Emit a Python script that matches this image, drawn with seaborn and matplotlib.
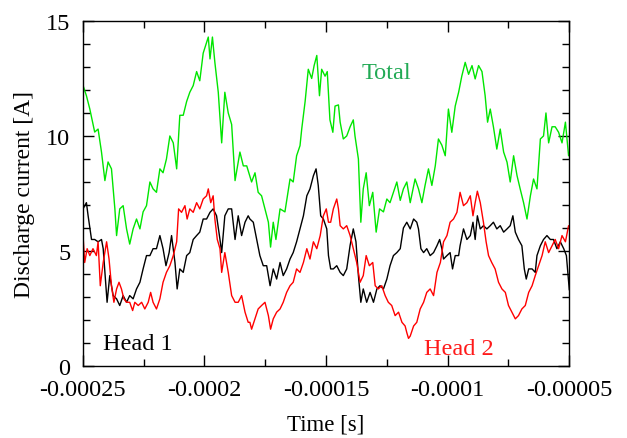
import numpy as np
import matplotlib
matplotlib.use("Agg")
import matplotlib.pyplot as plt
from matplotlib.ticker import MultipleLocator
import seaborn as sns

sns.set_style("ticks")
plt.rcParams["font.family"] = ["Liberation Serif", "DejaVu Serif"]
plt.rcParams["text.color"] = "black"
plt.rcParams["axes.labelcolor"] = "black"

# ---- data (time in microseconds, current in A) ----
t_total = [-249.9, -248.5, -247.1, -245.1, -243.7, -242.3, -240.9, -239.6, -238.2, -236.8,
           -236.1, -234.8, -233.4, -232.0, -230.7, -229.3, -227.9, -226.5, -225.2, -223.8,
           -222.4, -221.1, -219.7, -218.3, -217.0, -215.6, -214.2, -212.8, -211.4, -210.1,
           -208.7, -207.3, -206.0, -204.6, -203.2, -201.9, -200.5, -199.1, -198.4, -197.7,
           -196.7, -195.7, -194.3, -192.9, -191.6, -190.2, -188.8, -187.4, -185.4, -184.0,
           -182.6, -180.6, -179.2, -177.9, -176.5, -175.1, -173.7, -172.8, -171.7, -170.6,
           -168.9, -166.9, -164.8, -163.5, -162.1, -160.7, -160.0, -158.6, -157.3, -155.9,
           -154.9, -153.8, -152.7, -151.8, -150.4, -149.5, -148.4, -147.2, -146.3, -144.9,
           -144.2, -142.9, -141.5, -140.1, -138.8, -138.1, -136.7, -135.7, -134.7, -133.5,
           -132.2, -130.8, -129.4, -128.0, -126.4, -125.0, -123.7, -122.3, -120.9, -119.5,
           -118.2, -116.8, -115.4, -113.4, -112.0, -110.6, -109.3, -107.9, -106.5, -105.1,
           -103.8, -102.4, -101.0, -99.7, -98.3, -96.9, -95.5, -94.2, -92.8, -91.4,
           -90.0, -88.7, -87.3, -85.9, -84.6, -83.6, -82.5, -81.2, -79.8, -78.4,
           -77.0, -75.6, -74.3, -72.9, -71.5, -70.2, -68.8, -67.4, -66.0, -64.7,
           -63.3, -61.9, -60.6, -59.6, -58.5, -57.1, -55.8, -54.4, -53.0, -51.6, -50.3]
i_total = [12.2, 11.75, 11.17, 10.17, 10.3, 9.3, 8.06, 8.87, 8.57, 6.83,
           5.67, 6.83, 6.97, 5.96, 5.3, 5.96, 6.39, 5.96, 6.7, 6.97,
           8.0, 7.7, 7.55, 8.57, 8.4, 9.0, 10.0, 9.7, 8.57, 10.9,
           10.9, 11.5, 11.9, 12.19, 12.8, 12.4, 13.6, 14.07, 14.3, 13.35,
           14.3, 13.2, 11.9, 9.7, 11.9, 11.0, 10.5, 8.06, 9.3, 8.7,
           8.7, 8.0, 8.4, 7.55, 7.4, 6.83, 6.25, 5.17, 6.25, 5.5,
           6.83, 6.7, 8.13, 8.0, 9.14, 9.58, 10.3, 11.5, 12.9, 12.5,
           13.06, 13.5, 11.75, 12.9, 12.6, 12.8, 10.7, 10.16, 11.3, 11.35,
           10.6, 9.87, 10.0, 10.4, 10.7, 10.0, 9.0, 6.25, 7.7, 8.4,
           6.97, 7.55, 5.82, 6.83, 6.7, 7.26, 7.1, 7.55, 8.0, 7.2,
           7.7, 8.0, 7.1, 8.13, 7.7, 7.1, 7.85, 8.57, 7.85, 8.7,
           9.87, 9.6, 9.14, 11.17, 10.16, 11.3, 11.9, 12.6, 13.2, 12.68,
           13.06, 12.48, 13.06, 12.8, 11.75, 10.6, 11.17, 10.4, 9.43, 10.3,
           9.3, 8.86, 8.0, 9.14, 8.28, 7.7, 7.1, 6.39, 7.4, 8.13,
           7.7, 9.87, 10.0, 11.0, 9.7, 10.4, 10.4, 10.16, 9.7, 10.6, 9.14]

t_head1 = [-249.9, -248.5, -247.8, -246.4, -245.1, -243.7, -242.3, -241.6, -240.5, -240.0,
           -238.9, -237.5, -236.1, -234.8, -233.4, -232.0, -230.7, -229.3, -227.9, -226.5,
           -225.2, -223.8, -222.4, -221.1, -219.7, -218.3, -217.0, -215.8, -214.5, -213.5,
           -212.1, -211.2, -210.1, -208.7, -207.3, -206.0, -204.6, -203.2, -201.9, -200.5,
           -199.1, -197.7, -196.4, -195.0, -193.6, -192.9, -191.6, -190.2, -188.8, -187.4,
           -186.1, -184.7, -183.3, -182.0, -181.3, -179.9, -178.5, -177.2, -175.8, -174.4,
           -173.0, -171.7, -170.3, -168.9, -167.6, -166.2, -164.8, -163.5, -162.1, -160.7,
           -159.3, -157.9, -156.6, -155.2, -154.1, -153.2, -152.2, -151.1, -149.7, -149.0,
           -148.1, -147.0, -145.6, -144.2, -142.9, -141.5, -140.1, -138.8, -137.7, -136.7,
           -135.7, -134.7, -133.3, -131.9, -130.5, -129.1, -127.8, -126.4, -125.0, -123.7,
           -122.3, -120.9, -119.5, -118.2, -116.8, -115.4, -114.0, -112.7, -112.0, -111.0,
           -109.9, -108.6, -107.2, -105.8, -104.4, -103.3, -102.4, -101.7, -100.3, -99.0,
           -98.0, -96.9, -95.5, -94.9, -93.5, -92.1, -90.7, -89.6, -88.7, -87.8,
           -86.6, -85.3, -83.9, -82.5, -81.2, -79.8, -78.4, -77.0, -75.6, -74.3,
           -73.2, -72.2, -70.9, -69.5, -68.5, -67.7, -66.7, -65.3, -64.0, -63.3,
           -61.9, -60.6, -59.2, -57.8, -56.5, -55.1, -53.7, -52.3, -51.2, -50.5, -50.0]
i_head1 = [6.83, 7.1, 6.53, 5.5, 5.5, 5.4, 5.5, 5.1, 3.49, 2.77,
           3.93, 3.06, 2.92, 2.63, 3.06, 2.77, 3.06, 2.92, 3.35, 3.64,
           4.22, 4.8, 4.8, 5.1, 5.1, 5.67, 5.1, 4.36, 4.93, 5.67,
           4.5, 3.35, 4.22, 4.07, 4.8, 4.93, 5.5, 5.67, 5.82, 6.39,
           6.39, 6.68, 6.83, 6.53, 5.5, 4.93, 6.53, 6.83, 6.83, 5.5,
           6.53, 5.67, 6.25, 6.53, 6.39, 6.25, 5.5, 4.8, 4.36, 4.36,
           3.49, 4.22, 3.78, 4.5, 3.93, 4.22, 4.65, 4.93, 5.4, 5.96,
           6.53, 7.4, 7.7, 8.27, 8.57, 7.85, 6.53, 6.39, 5.96, 4.8,
           4.22, 4.22, 4.36, 4.07, 3.93, 4.22, 5.25, 5.96, 5.4, 3.93,
           2.77, 3.35, 2.77, 3.2, 2.77, 3.35, 3.49, 3.35, 3.78, 4.36,
           4.8, 4.93, 5.1, 6.0, 6.25, 5.96, 6.39, 6.25, 5.96, 5.1,
           4.93, 5.1, 4.8, 4.93, 5.23, 5.5, 5.1, 4.65, 4.8, 4.93,
           4.22, 4.8, 4.8, 5.23, 5.96, 5.5, 5.67, 6.25, 5.5, 6.53,
           5.96, 6.1, 5.96, 6.1, 6.25, 5.96, 6.1, 5.82, 5.96, 6.1,
           6.53, 5.82, 5.5, 5.23, 4.22, 3.78, 4.22, 4.22, 4.07, 4.8,
           5.23, 5.5, 5.67, 5.5, 5.5, 5.1, 5.4, 5.1, 4.8, 3.93, 3.3]

t_head2 = [-249.9, -249.2, -248.2, -247.1, -245.8, -244.4, -243.7, -242.8, -241.6, -240.2,
           -239.2, -238.2, -237.2, -236.1, -235.1, -234.1, -233.1, -232.0, -230.7, -229.5,
           -228.6, -227.2, -225.8, -224.5, -223.1, -222.1, -221.1, -219.7, -218.3, -217.0,
           -215.6, -214.2, -212.8, -211.4, -210.6, -209.4, -208.0, -207.1, -206.0, -204.6,
           -203.2, -201.9, -200.5, -199.1, -198.4, -197.4, -196.4, -195.7, -194.7, -193.6,
           -192.9, -191.6, -190.2, -188.8, -187.4, -186.1, -184.7, -183.3, -182.0, -181.3,
           -180.6, -179.2, -177.9, -176.5, -175.1, -173.7, -172.8, -171.7, -170.3, -168.9,
           -167.6, -166.2, -164.8, -163.5, -162.1, -160.7, -159.3, -157.9, -156.6, -155.2,
           -153.8, -152.4, -151.1, -149.9, -149.0, -148.1, -147.0, -145.6, -144.9, -144.2,
           -142.9, -141.5, -140.1, -138.8, -137.4, -136.0, -134.7, -133.5, -132.2, -130.8,
           -129.8, -128.5, -127.1, -125.7, -124.4, -123.0, -121.6, -120.2, -118.8, -117.5,
           -116.8, -116.1, -115.4, -114.0, -112.7, -111.3, -109.9, -108.6, -107.2, -105.8,
           -104.4, -103.0, -101.7, -100.3, -99.0, -97.6, -96.2, -94.9, -93.5, -92.1,
           -90.7, -89.6, -88.7, -87.8, -86.6, -85.3, -84.2, -83.2, -81.9, -80.5,
           -79.1, -77.7, -76.3, -75.0, -73.6, -72.2, -70.9, -69.5, -68.1, -66.7,
           -65.3, -64.0, -62.6, -61.2, -59.9, -58.5, -57.1, -55.8, -54.4, -53.0, -51.6, -50.3]
i_head2 = [5.67, 4.5, 5.1, 4.8, 5.1, 4.8, 5.4, 3.49, 4.5, 5.4,
           4.65, 3.49, 2.77, 3.35, 3.64, 3.35, 2.92, 2.77, 2.77, 2.41,
           2.77, 2.63, 2.77, 2.48, 2.77, 3.2, 2.77, 2.48, 2.92, 3.64,
           4.07, 4.36, 4.8, 5.4, 6.83, 6.68, 6.97, 6.39, 6.83, 6.68,
           7.1, 6.83, 7.26, 7.4, 7.7, 7.1, 7.4, 6.39, 5.5, 5.1,
           4.07, 4.93, 4.07, 3.06, 2.77, 2.77, 3.06, 2.34, 1.9, 1.9,
           1.6, 2.05, 2.48, 2.63, 2.77, 2.19, 1.6, 2.05, 2.34, 2.48,
           2.77, 3.2, 3.49, 3.64, 4.22, 4.07, 4.5, 5.1, 4.65, 5.4,
           5.1, 5.67, 6.53, 6.83, 6.25, 6.25, 6.83, 7.26, 6.83, 6.1,
           5.96, 6.1, 5.67, 5.1, 4.5, 3.64, 3.93, 4.8, 4.36, 4.5,
           3.49, 3.35, 3.49, 3.06, 2.77, 2.63, 2.19, 2.34, 1.9, 1.74,
           1.45, 1.2, 1.3, 1.74, 1.9, 2.48, 2.77, 3.2, 3.35, 3.06,
           4.07, 4.5, 5.4, 5.67, 6.25, 6.39, 6.68, 7.55, 6.97, 7.1,
           7.4, 6.53, 7.1, 7.6, 7.1, 6.25, 5.4, 4.8, 4.5, 4.22,
           3.64, 3.35, 3.2, 2.63, 2.34, 2.05, 2.19, 2.48, 2.63, 3.2,
           3.49, 3.93, 4.36, 4.8, 5.4, 4.93, 5.23, 5.5, 5.1, 5.67, 5.4, 6.1]

x_ticks = [-0.00025, -0.0002, -0.00015, -0.0001, -0.00005]
x_tick_labels = ["-0.00025", "-0.0002", "-0.00015", "-0.0001", "-0.00005"]
y_ticks = [0, 5, 10, 15]

# ---- figure ----
fig = plt.figure(figsize=(6.27, 4.39), dpi=100)
ax = fig.add_axes([0.132, 0.164, 0.776, 0.786])

sns.lineplot(x=np.array(t_total) * 1e-6, y=i_total, color="#00e600", lw=1.0,
             sort=False, estimator=None, ax=ax)
sns.lineplot(x=np.array(t_head1) * 1e-6, y=i_head1, color="black", lw=1.0,
             sort=False, estimator=None, ax=ax)
sns.lineplot(x=np.array(t_head2) * 1e-6, y=i_head2, color="#ff0000", lw=1.0,
             sort=False, estimator=None, ax=ax)

ax.set_xlim(-0.00025, -0.00005)
ax.set_ylim(0, 15)
ax.set_xticks(x_ticks)
ax.set_xticklabels(x_tick_labels)
ax.set_yticks(y_ticks)
ax.xaxis.set_minor_locator(MultipleLocator(0.000025))
ax.yaxis.set_minor_locator(MultipleLocator(1))
ax.tick_params(which="both", direction="in", top=True, right=True, width=1,
               labelsize=17.5, colors="black")
ax.tick_params(which="major", length=8)
ax.tick_params(which="minor", length=5)
ax.tick_params(axis="x", pad=9)
ax.tick_params(axis="y", pad=9)
for s in ax.spines.values():
    s.set_linewidth(1.0)
    s.set_color("black")

ax.set_xlabel("Time [s]", fontsize=16.5, labelpad=10)
ax.set_ylabel("Discharge current [A]", fontsize=17, labelpad=8)

ax.text(-0.0001352, 12.5, "Total", color="#22aa55", fontsize=17.5)
ax.text(-0.0002418, 0.74, "Head 1", color="black", fontsize=17.5)
ax.text(-0.0001097, 0.52, "Head 2", color="#ff1a1a", fontsize=17.5)

fig.savefig("out.png", dpi=100)
